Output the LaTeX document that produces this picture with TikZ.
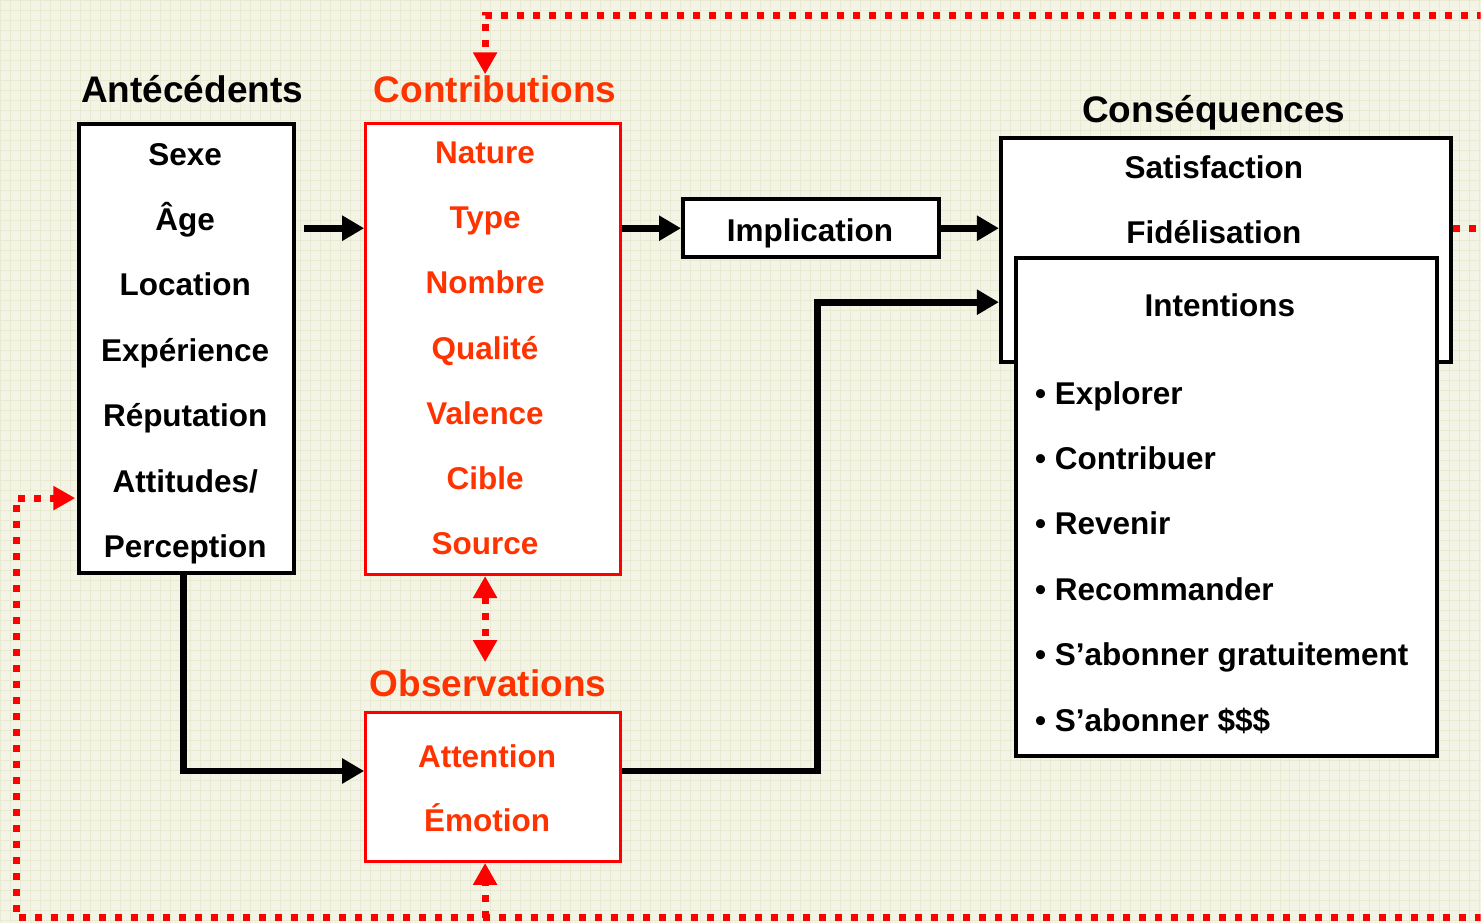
\documentclass[tikz,border=0pt]{standalone}
\usepackage{fontspec}
\setmainfont{Liberation Sans}
\usetikzlibrary{arrows.meta}
\definecolor{paper}{HTML}{F4F4E6}
\definecolor{gridline}{HTML}{E8EAD2}
\definecolor{boxred}{HTML}{FF0000}
\definecolor{textred}{HTML}{FF3300}
\newcommand\titlefont{\fontsize{37}{44}\selectfont\bfseries}
\newcommand\itemfont{\fontsize{31.5}{38}\selectfont\bfseries}
\def\rowsep{65.4}
\tikzset{fb tip/.tip={Triangle[length=22pt,width=23pt]}}

\begin{document}
\begin{tikzpicture}[x=1pt,y=-1pt]
    \tikzstyle{box}=[draw=black,line width=4pt,fill=white,inner sep=0pt]
    \tikzstyle{red box}=[box,draw=boxred,line width=3pt]
    \tikzstyle{item}=[anchor=base,inner sep=0pt,font=\itemfont]
    \tikzstyle{red item}=[item,text=textred]
    \tikzstyle{title}=[anchor=base,inner sep=0pt,font=\titlefont]
    \tikzstyle{flow}=[draw=black,line width=7pt,-{Triangle[length=22pt,width=24pt]}]
    \tikzstyle{feedback}=[draw=boxred,line width=7pt,dash pattern=on 7pt off 9pt]

    % Paper with its grid
    \fill[paper] (0,0) rectangle (1481,923);
    \draw[gridline,line width=0.6pt,step=10pt] (0,0) grid (1481,923);
    \useasboundingbox (0,0) rectangle (1481,923);
    \clip (0,0) rectangle (1481,923);

    % Antecedents
    \node[title] (ante-title) at (192,102) {Antécédents};
    \node[box,minimum width=215pt,minimum height=449pt] (ante) at (186.5,348.5) {};
    \foreach \txt [count=\i from 0] in {Sexe,Âge,Location,Expérience,Réputation,Attitudes/,Perception}
        \node[item] (ante-\i) at (185,165+\rowsep*\i) {\txt};

    % Contributions
    \node[title,text=textred] (contrib-title) at (495,102) {Contributions};
    \node[red box,minimum width=255pt,minimum height=451pt] (contrib) at (493,349) {};
    \foreach \txt [count=\i from 0] in {Nature,Type,Nombre,Qualité,Valence,Cible,Source}
        \node[red item] (contrib-\i) at (485,163+65.3*\i) {\txt};

    % Implication
    \node[box,minimum width=256pt,minimum height=58pt] (impl) at (811,228) {};
    \node[item] (impl-text) at (810,241) {Implication};

    % Consequences
    \node[title] (cons-title) at (1214,122) {Conséquences};
    \node[box,minimum width=450pt,minimum height=224pt] (cons) at (1226,250) {};
    \node[item] (cons-0) at (1214,178) {Satisfaction};
    \node[item] (cons-1) at (1214,243) {Fidélisation};

    % Intentions, over the consequences box
    \node[box,minimum width=421pt,minimum height=498pt] (intent) at (1226.5,507) {};
    \node[item] (intent-title) at (1220,316) {Intentions};
    \foreach \txt [count=\i from 0] in {Explorer,Contribuer,Revenir,Recommander,S’abonner gratuitement,S’abonner \$\$\$}
        \node[item,anchor=base west] (intent-\i) at (1035,404+\rowsep*\i) {• \txt};

    % Observations
    \node[title,text=textred] (obs-title) at (488,696) {Observations};
    \node[red box,minimum width=255pt,minimum height=149pt] (obs) at (493,787) {};
    \node[red item] (obs-0) at (487,767) {Attention};
    \node[red item] (obs-1) at (487,832) {Émotion};

    % Main flow
    \draw[flow,shorten <=8pt] (ante.east |- impl.west) -- (contrib.west |- impl.west);
    \draw[flow] (contrib.east |- impl.west) -- (impl.west);
    \draw[flow] (impl.east) -- (cons.west |- impl.east);
    \draw[flow] ([xshift=-3.5pt]ante.south) |- ([yshift=16pt]obs.west);
    \coordinate (bend) at (818,302);
    \draw[flow] ([yshift=16pt]obs.east) -| (bend) -- (cons.west |- bend);

    % Feedback loops (dotted, red)
    \coordinate (top-right) at (1530,15);
    \coordinate (bottom-right) at (1530,918);
    \coordinate (bottom-left) at (16,918);
    \coordinate (contrib-in) at (485,74);
    \coordinate (obs-top) at (485,662);
    \coordinate (ante-in) at (75,498);
    \draw[feedback,fb tip-fb tip] (contrib.south -| obs-top) -- (obs-top);
    \draw[feedback,-fb tip] (cons.east |- impl.east) -| (top-right) -| (contrib-in);
    \draw[feedback] (top-right) -- (bottom-right);
    \draw[feedback,-fb tip] (bottom-right) -- (bottom-left) |- (ante-in);
    \draw[feedback,-fb tip] (bottom-left -| contrib-in) -- (obs.south -| contrib-in);
\end{tikzpicture}
\end{document}
